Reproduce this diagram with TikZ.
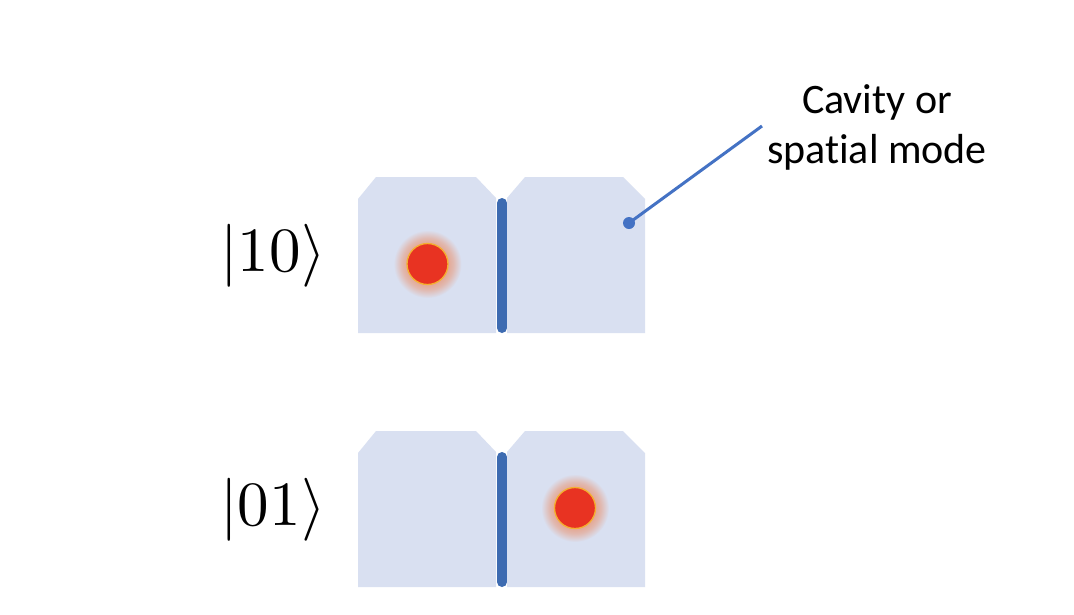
\documentclass[tikz,border=0pt]{standalone}
\usepackage{graphicx}
\usepackage{fontspec}
\newfontfamily\calib[Ligatures={NoCommon,NoContextual}]{Carlito}
\definecolor{boxc}{HTML}{D9E0F1}
\definecolor{barc}{HTML}{3D6BB1}
\definecolor{pinc}{HTML}{4472C4}
\definecolor{dotc}{HTML}{E83322}
\definecolor{rimc}{HTML}{F4B030}
\definecolor{glowc}{HTML}{E4A894}
\pgfdeclareradialshading{glowshade}{\pgfpoint{0bp}{0bp}}{color(0bp)=(glowc); color(15bp)=(glowc); color(19bp)=(glowc!70!boxc); color(25bp)=(boxc); color(50bp)=(boxc)}
\newcommand{\bigket}[1]{\scalebox{6.3}{$|#1\rangle$}}
\begin{document}
\begin{tikzpicture}[x=1pt,y=-1pt,
  panel/.style={fill=boxc,draw=none},
  divider/.style={draw=barc,line width=10pt,line cap=round},
  glow/.style={shading=glowshade},
  photon/.style={fill=dotc,draw=rimc,line width=1.3pt},
  ket/.style={anchor=base,inner sep=0pt},
  lbl/.style={font=\calib\fontsize{42}{50}\selectfont,anchor=base,inner sep=0pt},
  pin/.style={draw=pinc,line width=3pt},
  pindot/.style={fill=pinc,draw=none}]
\useasboundingbox (0,0) rectangle (1074,614);
\fill[white] (0,0) rectangle (1074,614);
% top pair
\begin{scope}
\fill[panel] (358,199) -- (376,177) -- (476,177) -- (496,198) -- (496,333) -- (358,333) -- cycle;
\fill[panel] (507,198) -- (525,177) -- (623,177) -- (645,199) -- (645,333) -- (507,333) -- cycle;
\draw[divider] (502,203) -- (502,328);
\shade[glow] (427.5,264) circle (34);
\draw[photon] (427.5,264) circle (20.5);
\end{scope}
% bottom pair
\begin{scope}[yshift=-254pt]
\fill[panel] (358,199) -- (376,177) -- (476,177) -- (496,198) -- (496,333) -- (358,333) -- cycle;
\fill[panel] (507,198) -- (525,177) -- (623,177) -- (645,199) -- (645,333) -- (507,333) -- cycle;
\draw[divider] (502,203) -- (502,328);
\shade[glow] (575,254) circle (34);
\draw[photon] (575,254) circle (20.5);
\end{scope}
% kets
\node[ket] (k10) at (273,271) {\bigket{10}};
\node[ket] (k01) at (273,525) {\bigket{01}};
% label
\node[lbl] (l1) at (877,113) {Cavity or};
\node[lbl] (l2) at (877,163) {spat\kern0pt ial mode};
\coordinate (pinend) at (762,126);
\coordinate (pinpt) at (629,223);
\draw[pin] (pinpt) -- (pinend);
\fill[pindot] (pinpt) circle (6);
\end{tikzpicture}
\end{document}
